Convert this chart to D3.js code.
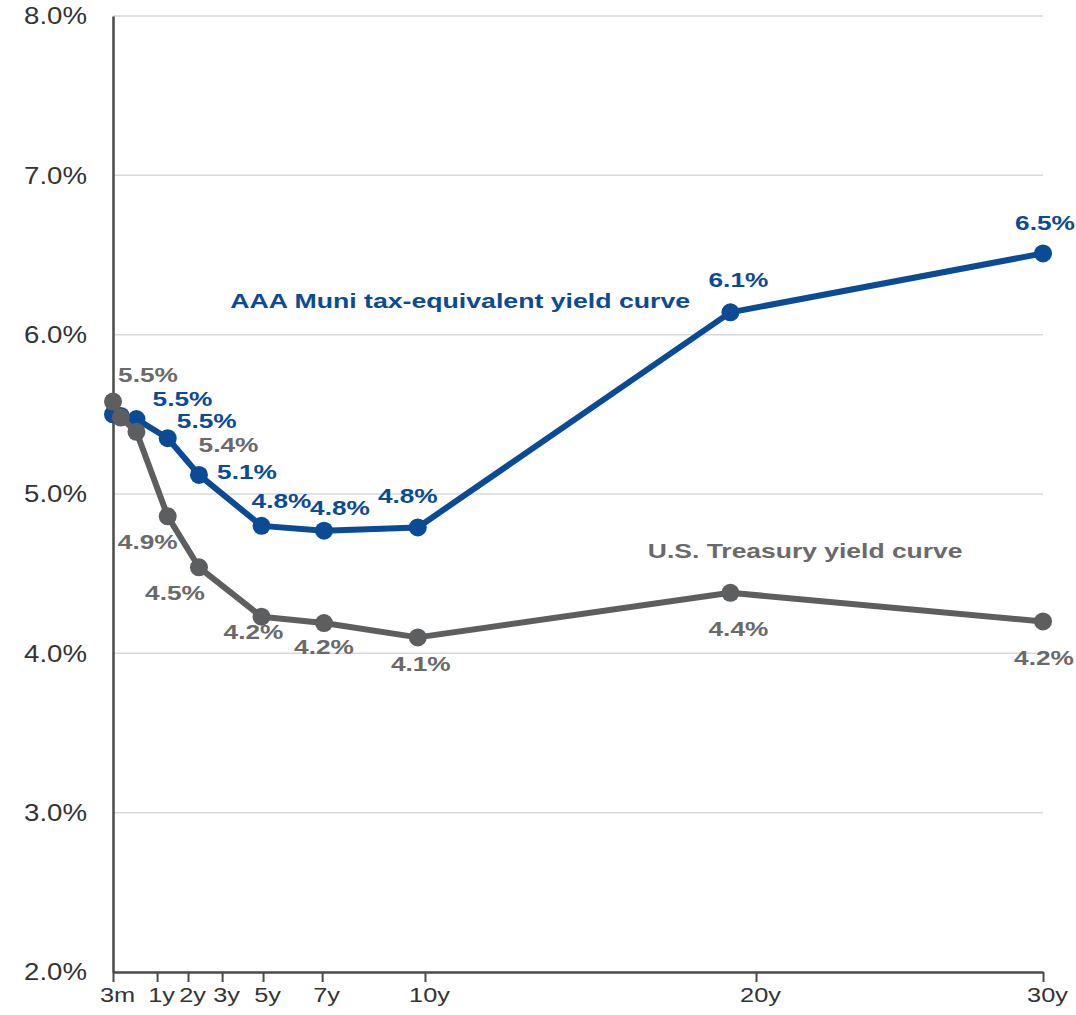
<!DOCTYPE html>
<html>
<head>
<meta charset="utf-8">
<script src="https://cdn.jsdelivr.net/npm/d3@7"></script>
<style>
  body { margin: 0; background: #fff; }
  svg { font-family: "Liberation Sans", Arial, sans-serif; }
</style>
</head>
<body>
<svg id="chart" width="1076" height="1015"></svg>
<script>
// maturities in years
var maturities = [0.25, 0.5, 1, 2, 3, 5, 7, 10, 20, 30];
var muniYield = [5.50, 5.49, 5.47, 5.35, 5.12, 4.80, 4.77, 4.79, 6.14, 6.51];
var treasuryYield = [5.58, 5.48, 5.39, 4.86, 4.54, 4.23, 4.19, 4.10, 4.38, 4.20];

// labels printed next to the points (index of point, text)
var muniLabelIdx = [2, 3, 4, 5, 6, 7, 8, 9];
var muniLabels = ["5.5%", "5.5%", "5.1%", "4.8%", "4.8%", "4.8%", "6.1%", "6.5%"];
var treasLabelIdx = [0, 2, 3, 4, 5, 6, 7, 8, 9];
var treasLabels = ["5.5%", "5.4%", "4.9%", "4.5%", "4.2%", "4.2%", "4.1%", "4.4%", "4.2%"];

// x-axis ticks (where the reference puts them) and their labels
var xTickAt = [0.25, 1.66, 2.65, 3.74, 5.05, 6.94, 10.23, 20.82, 30];
var xTickLabels = ["3m", "1y", "2y", "3y", "5y", "7y", "10y", "20y", "30y"];
var yTicks = [2, 3, 4, 5, 6, 7, 8];

var blue = "#0b4a95", gray = "#5d5e60", grayText = "#6a6a6a";

var svg = d3.select("#chart"),
    margin = {top: 16, right: 33, bottom: 43, left: 113},
    width = +svg.attr("width") - margin.left - margin.right,
    height = +svg.attr("height") - margin.top - margin.bottom;

var x = d3.scaleLinear().domain([0.25, 30]).range([0, width]);
var y = d3.scaleLinear().domain([2, 8]).range([height, 0]);

var g = svg.append("g")
    .attr("transform", "translate(" + margin.left + "," + margin.top + ")");

// gridlines
g.selectAll(".grid")
  .data(yTicks.slice(1))
  .enter().append("line")
    .attr("x1", 0).attr("x2", width)
    .attr("y1", function(d) { return y(d); })
    .attr("y2", function(d) { return y(d); })
    .attr("stroke", "#d9d9d9")
    .attr("stroke-width", 1.5);

// y axis
var ySx = 1.15;
var yAxis = g.append("g")
    .call(d3.axisLeft(y).tickValues(yTicks).tickSize(0).tickSizeOuter(0)
      .tickFormat(function(d) { return d.toFixed(1) + "%"; }));
yAxis.select(".domain").attr("stroke", "#4a4a4a").attr("stroke-width", 2.5);
yAxis.selectAll("text")
    .attr("font-size", 24)
    .attr("fill", "#333")
    .attr("font-family", "Liberation Sans, Arial, sans-serif")
    .attr("x", -26 / ySx)
    .attr("transform", "scale(" + ySx + ",1)");

// x axis
var xSx = 1.3;
var xAxis = g.append("g")
    .attr("transform", "translate(0," + height + ")")
    .call(d3.axisBottom(x).tickValues(xTickAt).tickSize(10).tickSizeOuter(0).tickPadding(6)
      .tickFormat(function(d, i) { return xTickLabels[i]; }));
xAxis.select(".domain").attr("stroke", "#4a4a4a").attr("stroke-width", 2.5);
xAxis.selectAll("line").attr("stroke", "#4a4a4a").attr("stroke-width", 2);
xAxis.selectAll("text")
    .attr("font-size", 19.5)
    .attr("fill", "#333")
    .attr("font-family", "Liberation Sans, Arial, sans-serif")
    .attr("x", 4 / xSx)
    .attr("transform", "scale(" + xSx + ",1)");

var line = d3.line()
    .x(function(d, i) { return x(maturities[i]); })
    .y(function(d) { return y(d); });

function drawSeries(values, color) {
  g.append("path")
      .datum(values)
      .attr("fill", "none")
      .attr("stroke", color)
      .attr("stroke-width", 6)
      .attr("stroke-linejoin", "round")
      .attr("d", line);
  g.selectAll(null)
    .data(values)
    .enter().append("circle")
      .attr("cx", function(d, i) { return x(maturities[i]); })
      .attr("cy", function(d) { return y(d); })
      .attr("r", 9)
      .attr("fill", color);
}

drawSeries(muniYield, blue);
drawSeries(treasuryYield, gray);

// stretched text helper
function label(px, py, txt, color, size, sx, anchor) {
  g.append("text")
    .attr("transform", "translate(" + px + "," + py + ") scale(" + sx + ",1)")
    .attr("text-anchor", anchor || "middle")
    .attr("font-size", size)
    .attr("font-weight", "bold")
    .attr("fill", color)
    .text(txt);
}

// label offsets relative to each point (center x, baseline y)
var muniOff = [[46, -13], [39, -10], [48, 4], [20, -18], [16, -16], [-10, -24], [8, -25], [2, -23]];
var treasOff = [[35, -20], [92, 20], [-20, 33], [-24, 33], [-8, 22], [0, 31], [3, 34], [8, 43], [1, 44]];

muniLabelIdx.forEach(function(idx, k) {
  label(x(maturities[idx]) + muniOff[k][0], y(muniYield[idx]) + muniOff[k][1],
        muniLabels[k], blue, 21, 1.25);
});
treasLabelIdx.forEach(function(idx, k) {
  label(x(maturities[idx]) + treasOff[k][0], y(treasuryYield[idx]) + treasOff[k][1],
        treasLabels[k], grayText, 21, 1.25);
});

// series names
label(x(4), y(6.17), "AAA Muni tax-equivalent yield curve", blue, 21, 1.27, "start");
label(x(17.36), y(4.6), "U.S. Treasury yield curve", grayText, 21, 1.26, "start");
</script>
</body>
</html>
